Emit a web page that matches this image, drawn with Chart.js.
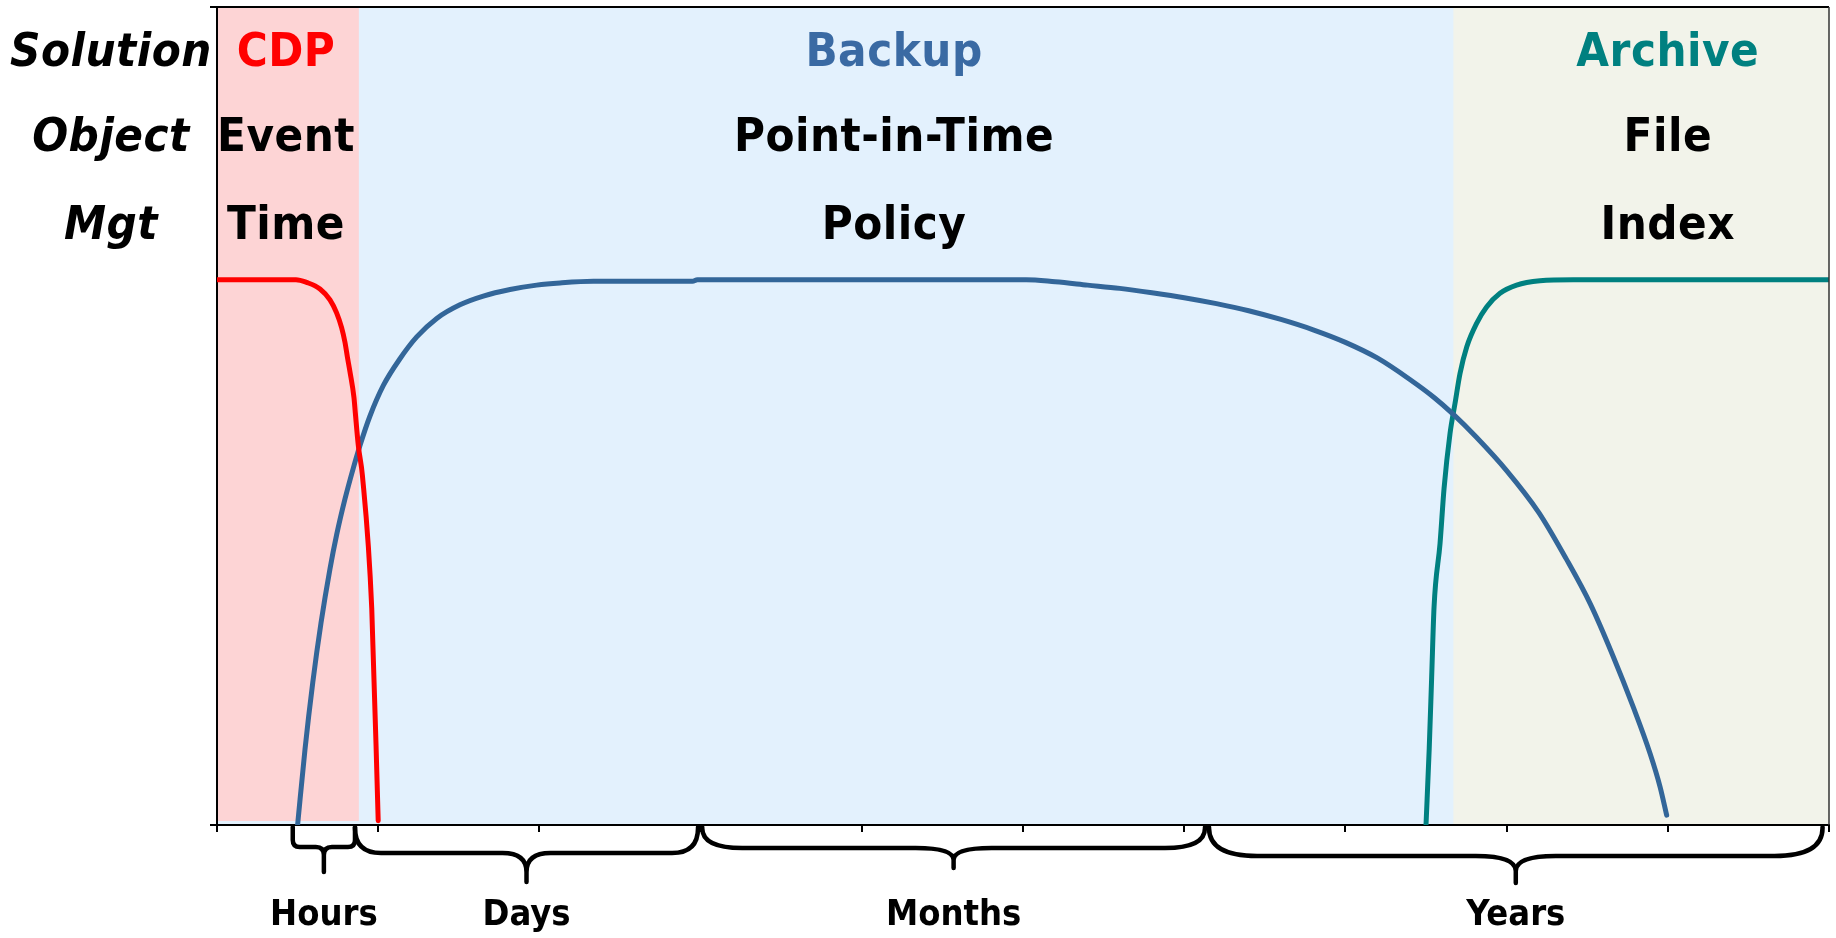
<!DOCTYPE html>
<html>
<head>
<meta charset="utf-8">
<script src="https://cdn.jsdelivr.net/npm/chart.js@4.4.0/dist/chart.umd.min.js"></script>
<style>
  html, body { margin: 0; padding: 0; background: #ffffff; }
  #wrap { width: 1836px; height: 938px; }
</style>
</head>
<body>
<div id="wrap"><canvas id="c" width="1836" height="938"></canvas></div>
<script>
// Data protection timeline: x runs through the retention periods (hours -> years),
// y is how well each solution covers recovery at that age (plateau = 100).
const rowTitles = ['Solution', 'Object', 'Mgt'];
const solutions = ['CDP', 'Backup', 'Archive'];
const objects = ['Event', 'Point-in-Time', 'File'];
const management = ['Time', 'Policy', 'Index'];
const zoneEdges = [0, 0.88, 7.67, 10];

const periods = ['Hours', 'Days', 'Months', 'Years'];
const periodFrom = [0.47, 0.856, 3.01, 6.154];
const periodTo = [0.856, 2.984, 6.129, 9.96];

const cdpX = [0, 0.49, 0.556, 0.639, 0.701, 0.742, 0.773, 0.794, 0.809, 0.825, 0.85, 0.858, 0.877, 0.902, 0.96, 1.0];
const cdpY = [100, 100, 99.5, 98.3, 96.3, 93.9, 91.2, 88.5, 85.8, 83.1, 78.3, 75.6, 69.5, 64.1, 39.7, 0.8];

const backupX = [0.5, 0.546, 0.594, 0.645, 0.701, 0.742, 0.794, 0.846, 0.887, 0.949, 1.032, 1.135, 1.239, 1.363,
  1.507, 1.652, 1.818, 1.983, 2.128, 2.335, 2.95, 2.98, 5.02, 5.2, 5.4, 5.6, 5.8, 6.0, 6.2,
  6.4, 6.6, 6.8, 7.0, 7.2, 7.4, 7.55, 7.67, 7.81, 8.0, 8.2, 8.37, 8.52, 8.66, 8.786,
  8.89, 8.952, 8.993];
const backupY = [0, 13.9, 26.1, 37.0, 47.0, 53.2, 59.8, 65.5, 69.6, 75.0, 80.6, 85.5, 89.5, 92.9,
  95.4, 97.0, 98.2, 99.0, 99.4, 99.7, 99.7, 100, 100, 99.6, 99.0, 98.4, 97.6, 96.7, 95.6,
  94.3, 92.7, 90.8, 88.5, 85.6, 81.7, 78.4, 75.3, 71.2, 65.0, 57.3, 48.8, 40.5, 31.0, 21.6,
  13.1, 7.0, 1.8];

const archiveX = [7.5, 7.52, 7.535, 7.55, 7.587, 7.612, 7.649, 7.68, 7.711, 7.753, 7.814, 7.876, 7.959, 8.062, 8.207, 8.414, 10];
const archiveY = [0, 14, 27, 40, 51.6, 61.7, 71.8, 77.3, 82.8, 87.7, 92.0, 95.0, 97.5, 99.0, 99.8, 100, 100];

const toPoints = (xs, ys) => xs.map((x, i) => ({ x, y: ys[i] }));

const FONT = '"DejaVu Sans Condensed", "DejaVu Sans", sans-serif';

// Shaded zones behind the curves, and the plot frame on top/right
const zonesPlugin = {
  id: 'zones',
  beforeDraw(chart) {
    const { ctx, chartArea: a, scales: { x } } = chart;
    const fills = ['#fdd4d5', '#f2f3ea'];
    ctx.save();
    ctx.fillStyle = '#e3f1fd';
    ctx.fillRect(a.left, a.top, a.right - a.left, a.bottom - a.top);
    // CDP zone
    let l = x.getPixelForValue(zoneEdges[0]);
    let r = x.getPixelForValue(zoneEdges[1]);
    ctx.fillStyle = fills[0];
    ctx.fillRect(l, a.top, r - l, a.bottom - a.top - 4);
    // Archive zone
    l = x.getPixelForValue(zoneEdges[2]);
    r = x.getPixelForValue(zoneEdges[3]);
    ctx.fillStyle = fills[1];
    ctx.fillRect(l, a.top, r - l, a.bottom - a.top);
    ctx.restore();
  },
  afterDraw(chart) {
    const { ctx, chartArea: a } = chart;
    ctx.save();
    ctx.strokeStyle = '#000';
    ctx.lineWidth = 2;
    ctx.beginPath();
    ctx.moveTo(a.left, a.top);
    ctx.lineTo(a.right, a.top);
    ctx.stroke();
    ctx.lineWidth = 1.5;
    ctx.strokeStyle = '#333';
    ctx.beginPath();
    ctx.moveTo(a.right, a.top);
    ctx.lineTo(a.right, a.bottom);
    ctx.stroke();
    ctx.restore();
  }
};

// Header rows and the period braces under the axis
const labelsPlugin = {
  id: 'labels',
  afterDraw(chart) {
    const { ctx, chartArea: a, scales: { x } } = chart;
    const centers = [0.428, 4.2, 9.0];
    const colors = ['#ff0000', '#3a6aa3', '#008080'];
    const baselines = [66, 151, 239];
    ctx.save();
    ctx.textAlign = 'center';
    ctx.textBaseline = 'alphabetic';
    if ('letterSpacing' in ctx) ctx.letterSpacing = '0.5px';

    ctx.fillStyle = '#000';
    ctx.font = 'italic bold 47px ' + FONT;
    rowTitles.forEach((t, i) => ctx.fillText(t, 111, baselines[i]));

    ctx.font = 'bold 47px ' + FONT;
    [solutions, objects, management].forEach((row, r) => {
      row.forEach((t, i) => {
        ctx.fillStyle = r === 0 ? colors[i] : '#000';
        ctx.fillText(t, x.getPixelForValue(centers[i]), baselines[r]);
      });
    });
    if ('letterSpacing' in ctx) ctx.letterSpacing = '0px';

    // braces: depth below the axis for the mid line and tip, corner and cusp radii
    const shape = [
      { mid: 22, tip: 47, rx: 7, ry: 7, cx: 8, cy: 8 },
      { mid: 28, tip: 57, rx: 26, ry: 25, cx: 24, cy: 19 },
      { mid: 23, tip: 43, rx: 40, ry: 20, cx: 38, cy: 12 },
      { mid: 31, tip: 58, rx: 48, ry: 28, cx: 40, cy: 15 }
    ];
    const top = a.bottom + 2;
    ctx.strokeStyle = '#000';
    ctx.lineWidth = 4.5;
    ctx.lineCap = 'round';
    ctx.lineJoin = 'round';
    periods.forEach((name, i) => {
      const s = shape[i];
      const x0 = x.getPixelForValue(periodFrom[i]);
      const x1 = x.getPixelForValue(periodTo[i]);
      const xc = (x0 + x1) / 2;
      const mid = a.bottom + s.mid;
      const tip = a.bottom + s.tip;
      ctx.beginPath();
      ctx.moveTo(x0, top);
      ctx.lineTo(x0, mid - s.ry);
      ctx.quadraticCurveTo(x0, mid, x0 + s.rx, mid);
      ctx.lineTo(xc - s.cx, mid);
      ctx.quadraticCurveTo(xc, mid, xc, mid + s.cy);
      ctx.lineTo(xc, tip);
      ctx.moveTo(xc, mid + s.cy);
      ctx.quadraticCurveTo(xc, mid, xc + s.cx, mid);
      ctx.lineTo(x1 - s.rx, mid);
      ctx.quadraticCurveTo(x1, mid, x1, mid - s.ry);
      ctx.lineTo(x1, top);
      ctx.stroke();

      ctx.fillStyle = '#000';
      ctx.font = 'bold 36px ' + FONT;
      ctx.fillText(name, xc, 925);
    });
    ctx.restore();
  }
};

const axisStyle = {
  grid: { display: true, drawOnChartArea: false, drawTicks: true, tickLength: 7, color: '#000', lineWidth: 2 },
  border: { display: true, color: '#000', width: 2 }
};

const lineStyle = { borderWidth: 5, borderCapStyle: 'round', borderJoinStyle: 'round', cubicInterpolationMode: 'monotone', pointRadius: 0, fill: false };

new Chart(document.getElementById('c'), {
  type: 'line',
  data: {
    datasets: [
      Object.assign({ label: solutions[0], data: toPoints(cdpX, cdpY), borderColor: '#ff0000' }, lineStyle),
      Object.assign({ label: solutions[1], data: toPoints(backupX, backupY), borderColor: '#336699' }, lineStyle),
      Object.assign({ label: solutions[2], data: toPoints(archiveX, archiveY), borderColor: '#008080' }, lineStyle)
    ]
  },
  options: {
    responsive: false,
    animation: false,
    devicePixelRatio: 1,
    layout: { padding: { left: 210, right: 7, top: 7, bottom: 106 } },
    plugins: { legend: { display: false }, tooltip: { enabled: false } },
    scales: {
      x: Object.assign({ type: 'linear', min: 0, max: 10, ticks: { stepSize: 1, display: false } }, axisStyle),
      y: Object.assign({ type: 'linear', min: 0, max: 150, ticks: { stepSize: 150, display: false } }, axisStyle)
    }
  },
  plugins: [zonesPlugin, labelsPlugin]
});
</script>
</body>
</html>
